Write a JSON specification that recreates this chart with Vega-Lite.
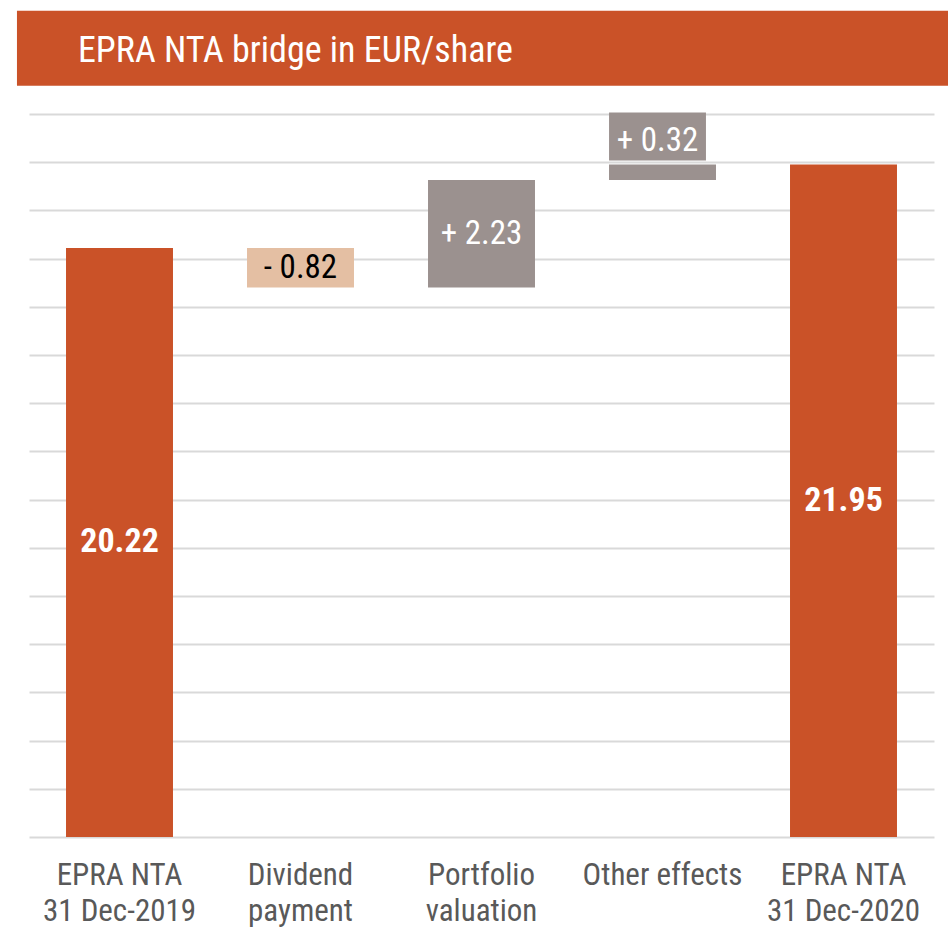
{
  "$schema": "https://vega.github.io/schema/vega-lite/v6.json",
  "width": 905,
  "height": 723,
  "autosize": {"type": "none"},
  "padding": {"left": 29, "top": 114, "right": 14, "bottom": 91},
  "background": "white",
  "config": {"view": {"stroke": null}, "font": "Roboto Condensed, DejaVu Sans Condensed, Roboto"},
  "datasets": {
    "steps": [
      {"step": "EPRA NTA\n31 Dec-2019", "kind": "total", "start": 8, "end": 20.22, "label": "20.22"},
      {"step": "Dividend\npayment", "kind": "decrease", "start": 20.22, "end": 19.40, "label": "- 0.82"},
      {"step": "Portfolio\nvaluation", "kind": "increase", "start": 19.40, "end": 21.63, "label": "+ 2.23"},
      {"step": "Other effects", "kind": "increase", "start": 21.63, "end": 21.95, "label": "+ 0.32"},
      {"step": "EPRA NTA\n31 Dec-2020", "kind": "total", "start": 8, "end": 21.95, "label": "21.95"}
    ]
  },
  "layer": [
    {
      "data": {"values": [{"title": "EPRA NTA bridge in EUR/share"}]},
      "layer": [
        {
          "mark": {"type": "rect", "color": "#CA5228"},
          "encoding": {
            "x": {"datum": -0.0133, "type": "quantitative", "scale": {"domain": [0, 1], "nice": false, "zero": false}, "axis": null},
            "x2": {"datum": 1.0155},
            "y": {"datum": 25.143, "type": "quantitative"},
            "y2": {"datum": 23.587}
          }
        },
        {
          "mark": {"type": "text", "align": "left", "baseline": "alphabetic", "fontSize": 36, "color": "white"},
          "encoding": {
            "x": {"datum": 0.0541, "type": "quantitative"},
            "y": {"datum": 24.079, "type": "quantitative"},
            "text": {"field": "title"}
          }
        }
      ]
    },
    {
      "data": {"name": "steps"},
      "encoding": {
        "x": {
          "field": "step",
          "type": "nominal",
          "scale": {
            "domain": ["EPRA NTA\n31 Dec-2019", "Dividend\npayment", "Portfolio\nvaluation", "Other effects", "EPRA NTA\n31 Dec-2020"],
            "paddingInner": 0.409,
            "paddingOuter": 0.2045
          },
          "axis": {
            "orient": "bottom",
            "title": null,
            "labelAngle": 0,
            "ticks": false,
            "domain": false,
            "labelExpr": "split(datum.value, '\\n')",
            "labelFontSize": 31,
            "labelColor": "#595959",
            "labelLineHeight": 36,
            "labelPadding": 23,
            "labelLimit": 0
          }
        }
      },
      "layer": [
        {
          "mark": {"type": "bar"},
          "encoding": {
            "y": {
              "field": "start",
              "type": "quantitative",
              "scale": {"domain": [8, 23], "nice": false, "zero": false},
              "axis": {
                "title": null,
                "values": [8, 9, 10, 11, 12, 13, 14, 15, 16, 17, 18, 19, 20, 21, 22, 23],
                "labels": false,
                "ticks": false,
                "domain": false,
                "grid": true,
                "gridColor": "#D9D9D9",
                "gridWidth": 2
              }
            },
            "y2": {"field": "end"},
            "color": {
              "field": "kind",
              "type": "nominal",
              "scale": {"domain": ["total", "decrease", "increase"], "range": ["#CA5228", "#E4BFA3", "#9B918F"]},
              "legend": null
            }
          }
        },
        {
          "transform": [{"filter": "datum.step == 'Other effects'"}],
          "mark": {"type": "bar", "color": "#9B918F", "yOffset": -4, "y2Offset": -52, "width": {"band": 0.906}, "xOffset": -5},
          "encoding": {
            "y": {"field": "end", "type": "quantitative"},
            "y2": {"field": "end"}
          }
        },
        {
          "transform": [
            {"fold": ["start", "end"], "as": ["edge", "v"]},
            {"aggregate": [{"op": "mean", "field": "v", "as": "mid"}], "groupby": ["step", "kind", "label"]},
            {"filter": "datum.kind == 'total'"}
          ],
          "mark": {"type": "text", "fontSize": 34, "fontWeight": "bold", "color": "white", "baseline": "middle"},
          "encoding": {
            "y": {"field": "mid", "type": "quantitative"},
            "text": {"field": "label"}
          }
        },
        {
          "transform": [
            {"fold": ["start", "end"], "as": ["edge", "v"]},
            {"aggregate": [{"op": "mean", "field": "v", "as": "mid"}], "groupby": ["step", "kind", "label"]},
            {"filter": "datum.kind != 'total' && datum.step != 'Other effects'"}
          ],
          "mark": {"type": "text", "fontSize": 33, "baseline": "middle"},
          "encoding": {
            "y": {"field": "mid", "type": "quantitative"},
            "text": {"field": "label"},
            "color": {"condition": {"test": "datum.kind == 'decrease'", "value": "black"}, "value": "white"}
          }
        },
        {
          "transform": [{"filter": "datum.step == 'Other effects'"}],
          "mark": {"type": "text", "fontSize": 33, "baseline": "alphabetic", "dy": -14, "xOffset": -5, "color": "white"},
          "encoding": {
            "y": {"field": "end", "type": "quantitative"},
            "text": {"field": "label"}
          }
        }
      ]
    }
  ],
  "resolve": {"scale": {"x": "independent"}}
}
